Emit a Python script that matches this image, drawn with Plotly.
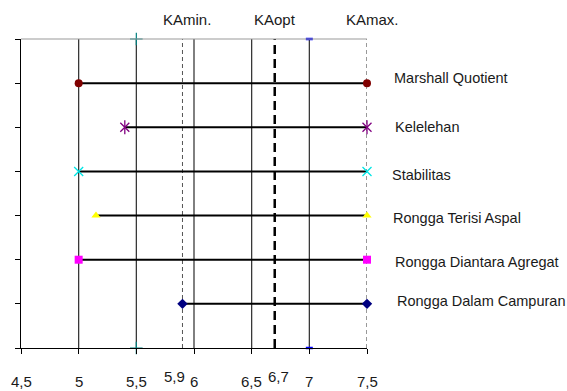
import plotly.graph_objects as go

# ---- data ----
series_names = ["Marshall Quotient", "Kelelehan", "Stabilitas",
                "Rongga Terisi Aspal", "Rongga Diantara Agregat", "Rongga Dalam Campuran"]
series_y = [6, 5, 4, 3, 2, 1]
series_start = [5.0, 5.4, 5.0, 5.15, 5.0, 5.9]
series_end = [7.5, 7.5, 7.5, 7.5, 7.5, 7.5]
marker_symbols = ["circle", "x-thin-open", "x-thin-open", "triangle-up", "square", "diamond"]
marker_colors = ["#800000", "#800080", "#00E5E5", "#FFFF00", "#FF00FF", "#000080"]
star_series = ["Kelelehan"]  # x marker with an extra vertical stroke

grid_x = [5.0, 5.5, 6.0, 6.5, 7.0]
ka_min, ka_opt, ka_max = 5.9, 6.7, 7.5
ka_labels = ["KAmin.", "KAopt", "KAmax."]

tick_vals = [4.5, 5.0, 5.5, 6.0, 6.5, 7.0, 7.5]
tick_text = ["4,5", "5", "5,5", "6", "6,5", "7", "7,5"]
raised_vals = [5.9, 6.7]
raised_text = ["5,9", "6,7"]

X0, X1 = 4.5, 7.5
Y0, Y1 = 0, 7

# ---- layout geometry (pixels) ----
W, H = 567, 391
L, R, T, B = 21, 367, 39, 348
FONT = "Liberation Sans, Arial, sans-serif"
TXT = "#1a1a1a"

def px_x(px):
    return (px - L) / (R - L)

def px_y(py):
    return (B - py) / (B - T)

fig = go.Figure()

# vertical grid-like lines
for gx in grid_x:
    fig.add_trace(go.Scatter(x=[gx, gx], y=[Y0, Y1], mode="lines",
                             line=dict(color="#2a2a2a", width=1.2),
                             hoverinfo="skip", showlegend=False))

# KA lines
fig.add_trace(go.Scatter(x=[ka_min, ka_min], y=[Y0, Y1], mode="lines",
                         line=dict(color="#555555", width=1, dash="4px,3px"),
                         showlegend=False, hoverinfo="skip"))
fig.add_trace(go.Scatter(x=[ka_opt, ka_opt], y=[Y0, Y1], mode="lines",
                         line=dict(color="#000000", width=2.5, dash="9px,5px"),
                         showlegend=False, hoverinfo="skip"))
fig.add_trace(go.Scatter(x=[ka_max, ka_max], y=[Y0, Y1], mode="lines",
                         line=dict(color="#333333", width=1, dash="4px,3px"),
                         showlegend=False, hoverinfo="skip"))

# small end markers on the 5.5 and 7.0 lines
fig.add_trace(go.Scatter(x=[5.5, 5.5], y=[Y0, Y1], mode="markers",
                         marker=dict(symbol="cross-thin-open", size=9, color="#008080",
                                     line=dict(color="#008080", width=1.2)),
                         showlegend=False, hoverinfo="skip", cliponaxis=False))
fig.add_trace(go.Scatter(x=[7.0, 7.0], y=[Y0, Y1], mode="markers",
                         marker=dict(symbol="line-ew-open", size=5, color="#0000FF",
                                     line=dict(color="#0000FF", width=2.5)),
                         showlegend=False, hoverinfo="skip", cliponaxis=False))

# series ranges
for name, yv, xs, xe, sym, col in zip(series_names, series_y, series_start,
                                      series_end, marker_symbols, marker_colors):
    open_sym = sym.endswith("open")
    mk = dict(symbol=sym, size=9 if open_sym else 8, color=col,
              line=dict(color=col, width=1.3 if open_sym else 0))
    fig.add_trace(go.Scatter(x=[xs, xe], y=[yv, yv], mode="lines+markers",
                             line=dict(color="#000000", width=2),
                             marker=mk, name=name, showlegend=False,
                             cliponaxis=False))
    if name in star_series:
        fig.add_trace(go.Scatter(x=[xs, xe], y=[yv, yv], mode="markers",
                                 marker=dict(symbol="line-ns-open", size=10, color=col,
                                             line=dict(color=col, width=1.3)),
                                 showlegend=False, hoverinfo="skip", cliponaxis=False))

# top border line
fig.add_shape(type="line", xref="paper", yref="paper", x0=0, x1=1, y0=1, y1=1,
              line=dict(color="#999999", width=1.2))

annotations = []
# series labels on right
label_px = [(392, 78), (393, 127), (390, 175), (391, 218), (393, 262), (395, 301)]
for name, (lx, ly) in zip(series_names, label_px):
    annotations.append(dict(x=px_x(lx), y=px_y(ly), xref="paper", yref="paper",
                            text=name, showarrow=False, xanchor="left", yanchor="middle",
                            font=dict(family=FONT, size=14.5, color=TXT)))
# KA labels on top
ka_px = [187, 275, 372]
for t, lx in zip(ka_labels, ka_px):
    annotations.append(dict(x=px_x(lx), y=px_y(19), xref="paper", yref="paper", text=t,
                            showarrow=False, xanchor="center", yanchor="middle",
                            font=dict(family=FONT, size=15, color=TXT)))
# bottom tick labels
for v, t in zip(tick_vals, tick_text):
    annotations.append(dict(x=v, y=px_y(381), xref="x", yref="paper", text=t,
                            showarrow=False, xanchor="center", yanchor="middle",
                            font=dict(family=FONT, size=15, color=TXT)))
raised_shift = [-0.07, 0.035]
for v, t, s in zip(raised_vals, raised_text, raised_shift):
    annotations.append(dict(x=v + s, y=px_y(376), xref="x", yref="paper", text=t,
                            showarrow=False, xanchor="center", yanchor="middle",
                            font=dict(family=FONT, size=15, color=TXT)))

fig.update_layout(
    width=W, height=H,
    margin=dict(l=L, r=W - R, t=T, b=H - B, pad=0),
    paper_bgcolor="white", plot_bgcolor="white",
    annotations=annotations,
    xaxis=dict(range=[X0, X1], tickvals=tick_vals, showticklabels=False,
               ticks="outside", ticklen=5, tickcolor="#000000", tickwidth=1.2,
               showgrid=False, zeroline=False, showline=True,
               linecolor="#000000", linewidth=1.2, fixedrange=True),
    yaxis=dict(range=[Y0, Y1], tickvals=list(range(Y0, Y1 + 1)), showticklabels=False,
               ticks="outside", ticklen=5, tickcolor="#000000", tickwidth=1.2,
               showgrid=False, zeroline=False, showline=True,
               linecolor="#000000", linewidth=1.2, fixedrange=True),
)

fig.write_html("out.html")
